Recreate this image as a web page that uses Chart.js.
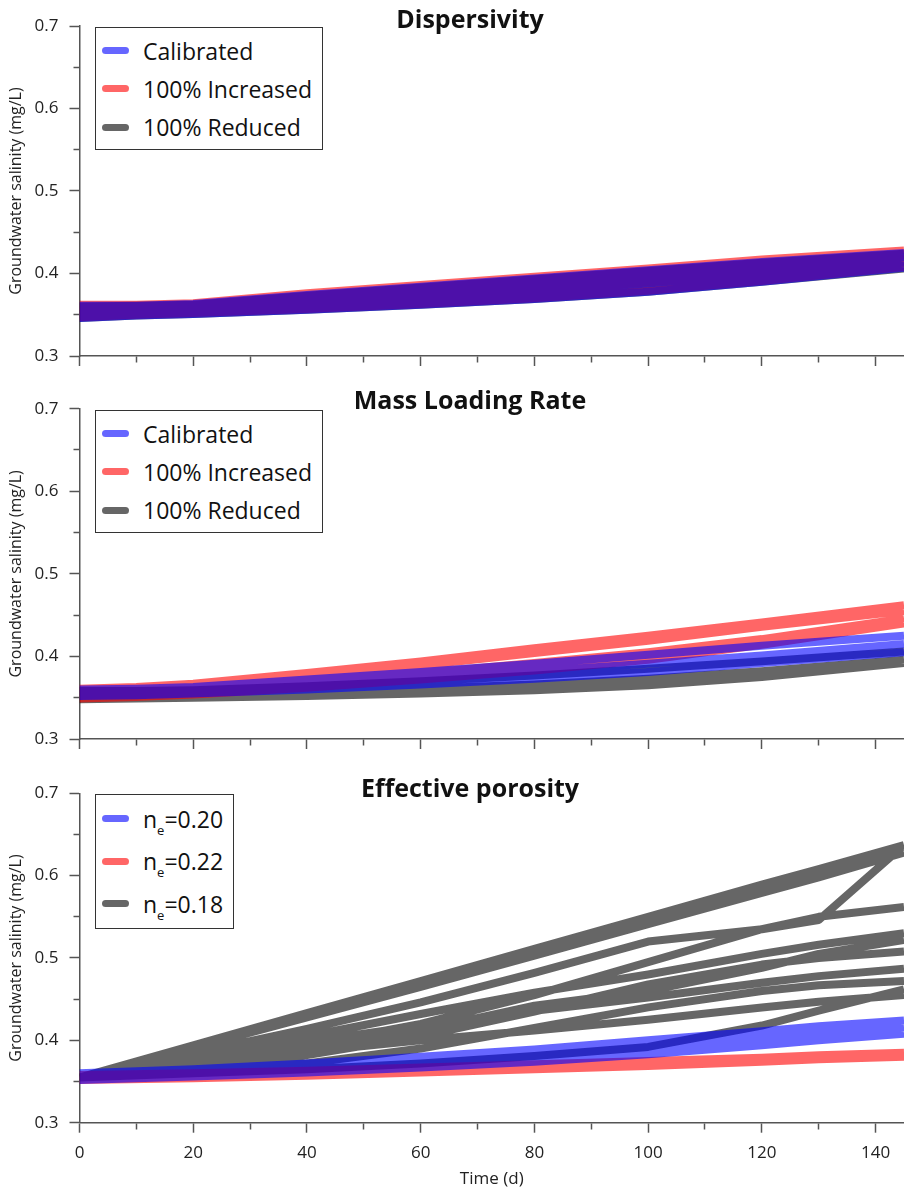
<!DOCTYPE html>
<html lang="en">
<head>
  <meta charset="UTF-8">
  <title>Groundwater salinity sensitivity</title>
  <script src="https://cdn.jsdelivr.net/npm/chart.js"></script>
  <style>
    body { margin: 0; background: #fff; font-family: 'Open Sans', sans-serif; }
    #wrap { position: relative; width: 904px; height: 1190px; overflow: hidden; }
    canvas { position: absolute; left: 0; }
    .ptitle { position: absolute; left: 0; width: 940px; text-align: center; font-weight: bold; font-size: 25px; line-height: 25px; color: #111; }
    .legend { position: absolute; border: 1px solid #333; background: #fff; box-sizing: border-box; }
    .legend .row { position: relative; display: flex; align-items: center; font-size: 23px; color: #111; white-space: nowrap; }
    .legend .swatch { position: absolute; left: 6px; width: 27px; height: 7px; border-radius: 3.5px; }
    .legend .txt { position: absolute; left: 47px; }
    .legend sub { font-size: 13px; vertical-align: -7px; line-height: 0; }
  </style>
</head>
<body>
<div id="wrap">
  <canvas id="c1" width="904" height="386" style="top:0px"></canvas>
  <canvas id="c2" width="904" height="383" style="top:386px"></canvas>
  <canvas id="c3" width="904" height="421" style="top:769px"></canvas>

  <div class="ptitle" style="top:6px">Dispersivity</div>
  <div class="ptitle" style="top:387px">Mass Loading Rate</div>
  <div class="ptitle" style="top:775px">Effective porosity</div>

  <div class="legend" id="lg1" style="left:95px; top:27px; width:228px; height:123px"></div>
  <div class="legend" id="lg2" style="left:95px; top:410px; width:228px; height:123px"></div>
  <div class="legend" id="lg3" style="left:95px; top:794px; width:139px; height:135px"></div>
</div>

<script>
  // time axes (days)
  const daysA = [0, 10, 20, 40, 60, 80, 100, 120, 145];
  const daysB = [0, 20, 40, 60, 80, 100, 120, 130, 145];

  // Dispersivity panel, one row per observation line
  const dispCalibrated = [
    [0.361, 0.361, 0.363, 0.374, 0.384, 0.394, 0.404, 0.414, 0.425],
    [0.357, 0.357, 0.359, 0.368, 0.377, 0.386, 0.396, 0.407, 0.420],
    [0.352, 0.353, 0.355, 0.362, 0.370, 0.378, 0.388, 0.399, 0.413],
    [0.346, 0.349, 0.351, 0.356, 0.362, 0.369, 0.378, 0.390, 0.407]
  ];
  const dispIncreased = [
    [0.362, 0.362, 0.364, 0.376, 0.386, 0.396, 0.406, 0.417, 0.428],
    [0.357, 0.358, 0.360, 0.369, 0.378, 0.388, 0.398, 0.409, 0.422],
    [0.352, 0.354, 0.356, 0.363, 0.371, 0.379, 0.389, 0.400, 0.414],
    [0.347, 0.350, 0.352, 0.357, 0.363, 0.370, 0.379, 0.391, 0.408]
  ];
  const dispReduced = [
    [0.360, 0.361, 0.362, 0.373, 0.383, 0.393, 0.403, 0.413, 0.424],
    [0.356, 0.357, 0.358, 0.367, 0.376, 0.385, 0.395, 0.406, 0.419],
    [0.351, 0.353, 0.355, 0.361, 0.369, 0.377, 0.387, 0.398, 0.412],
    [0.346, 0.349, 0.351, 0.356, 0.362, 0.369, 0.378, 0.390, 0.406]
  ];

  // Mass loading rate panel
  const massCalibrated = [
    [0.360, 0.361, 0.363, 0.372, 0.381, 0.391, 0.402, 0.413, 0.425],
    [0.356, 0.357, 0.359, 0.366, 0.374, 0.382, 0.391, 0.401, 0.415],
    [0.352, 0.353, 0.355, 0.360, 0.366, 0.373, 0.381, 0.392, 0.405]
  ];
  const massIncreased = [
    [0.361, 0.363, 0.367, 0.380, 0.394, 0.410, 0.425, 0.441, 0.462],
    [0.358, 0.360, 0.364, 0.376, 0.389, 0.404, 0.419, 0.436, 0.455],
    [0.354, 0.356, 0.359, 0.369, 0.380, 0.392, 0.405, 0.421, 0.446],
    [0.349, 0.351, 0.354, 0.362, 0.372, 0.383, 0.396, 0.414, 0.440]
  ];
  const massReduced = [
    [0.358, 0.358, 0.359, 0.364, 0.370, 0.377, 0.385, 0.394, 0.406],
    [0.353, 0.353, 0.354, 0.357, 0.361, 0.366, 0.373, 0.382, 0.396],
    [0.348, 0.349, 0.350, 0.352, 0.355, 0.359, 0.365, 0.375, 0.392]
  ];

  // Effective porosity panel (daysB)
  const poro020 = [
    [0.360, 0.365, 0.372, 0.380, 0.389, 0.400, 0.411, 0.417, 0.424],
    [0.356, 0.361, 0.367, 0.374, 0.382, 0.391, 0.402, 0.408, 0.416],
    [0.352, 0.356, 0.361, 0.367, 0.374, 0.383, 0.394, 0.400, 0.408]
  ];
  const poro022 = [
    [0.358, 0.360, 0.363, 0.367, 0.371, 0.375, 0.379, 0.382, 0.385],
    [0.352, 0.354, 0.357, 0.361, 0.365, 0.369, 0.374, 0.377, 0.380]
  ];
  const poro018 = [
    [0.355, 0.394, 0.433, 0.472, 0.511, 0.550, 0.589, 0.608, 0.637],
    [0.355, 0.391, 0.428, 0.465, 0.503, 0.541, 0.579, 0.598, 0.628],
    [0.355, 0.384, 0.414, 0.446, 0.482, 0.520, 0.535, 0.546, 0.637],
    [0.355, 0.372, 0.394, 0.420, 0.455, 0.495, 0.535, 0.550, 0.562],
    [0.355, 0.380, 0.405, 0.432, 0.458, 0.480, 0.505, 0.516, 0.530],
    [0.355, 0.366, 0.382, 0.405, 0.435, 0.468, 0.492, 0.500, 0.508],
    [0.355, 0.374, 0.392, 0.412, 0.442, 0.460, 0.488, 0.505, 0.522],
    [0.355, 0.376, 0.398, 0.418, 0.436, 0.452, 0.470, 0.478, 0.487],
    [0.355, 0.362, 0.372, 0.390, 0.415, 0.440, 0.460, 0.467, 0.472],
    [0.355, 0.370, 0.386, 0.400, 0.412, 0.425, 0.440, 0.447, 0.455],
    [0.355, 0.360, 0.365, 0.372, 0.381, 0.392, 0.418, 0.436, 0.462]
  ];

  const BLUE = 'rgba(0,0,255,0.6)';
  const RED = 'rgba(255,0,0,0.6)';
  const GRAY = 'rgba(0,0,0,0.6)';

  Chart.defaults.font.family = "'Open Sans', sans-serif";
  Chart.defaults.animation = false;

  // all lines of one group go into one dataset, split by null gaps,
  // so the group is stroked once and only different groups blend
  function toPoints(days, lines) {
    const pts = [];
    lines.forEach((ys, k) => {
      if (k > 0) pts.push({ x: days[days.length - 1], y: null });
      ys.forEach((y, i) => pts.push({ x: days[i], y: y }));
    });
    return pts;
  }

  function makeChart(id, days, groups, opts) {
    const isMinorX = c => Math.round(c.tick.value) % 20 !== 0;
    const isMinorY = c => Math.round(c.tick.value * 100) % 10 !== 0;
    return new Chart(document.getElementById(id), {
      type: 'line',
      data: {
        datasets: groups.map(g => ({
          label: g.label,
          data: toPoints(days, g.lines),
          borderColor: g.color,
          backgroundColor: g.color,
          borderWidth: 8,
          pointRadius: 0,
          tension: 0,
          borderCapStyle: 'butt',
          borderJoinStyle: 'round',
          spanGaps: false
        }))
      },
      options: {
        responsive: false,
        layout: { padding: { top: opts.padTop, left: 0, right: 0, bottom: 0 } },
        plugins: { legend: { display: false }, tooltip: { enabled: false } },
        scales: {
          x: {
            type: 'linear',
            min: 0,
            max: 145,
            afterFit: s => { s.height = opts.xHeight; },
            ticks: {
              stepSize: 10,
              includeBounds: false,
              autoSkip: false,
              maxRotation: 0,
              padding: 10,
              color: '#222',
              font: { size: 17 },
              callback: v => (opts.xLabels && Math.round(v) % 20 === 0) ? String(v) : ''
            },
            grid: {
              drawOnChartArea: false,
              tickLength: 10,
              tickWidth: 1.5,
              tickColor: '#555',
              tickBorderDash: c => isMinorX(c) ? [6, 10] : []
            },
            border: { color: '#555', width: 1.5 },
            title: {
              display: opts.xLabels,
              text: 'Time (d)',
              color: '#222',
              font: { size: 17 },
              padding: { top: 0, bottom: 1 }
            }
          },
          y: {
            min: 0.3,
            max: 0.7,
            afterFit: s => { s.width = 79.5; },
            ticks: {
              stepSize: 0.05,
              autoSkip: false,
              padding: 11,
              color: '#222',
              font: { size: 17 },
              callback: v => Math.round(v * 100) % 10 === 0 ? v.toFixed(1) : ''
            },
            grid: {
              drawOnChartArea: false,
              tickLength: 10,
              tickWidth: 1.5,
              tickColor: '#555',
              tickBorderDash: c => isMinorY(c) ? [6, 4] : [],
              tickBorderDashOffset: c => isMinorY(c) ? 6 : 0
            },
            border: { color: '#555', width: 1.5 },
            title: {
              display: true,
              text: 'Groundwater salinity (mg/L)',
              color: '#222',
              font: { size: 16 },
              padding: { top: 7, bottom: 0 }
            }
          }
        }
      }
    });
  }

  function buildLegend(id, items, rowH, padTop) {
    const box = document.getElementById(id);
    box.style.paddingTop = padTop + 'px';
    items.forEach(it => {
      const row = document.createElement('div');
      row.className = 'row';
      row.style.height = rowH + 'px';
      row.innerHTML = '<span class="swatch" style="background:' + it.color + '"></span>' +
                      '<span class="txt">' + it.html + '</span>';
      box.appendChild(row);
    });
  }

  makeChart('c1', daysA, [
    { label: 'Calibrated', color: BLUE, lines: dispCalibrated },
    { label: '100% Increased', color: RED, lines: dispIncreased },
    { label: '100% Reduced', color: GRAY, lines: dispReduced }
  ], { padTop: 26, xHeight: 30, xLabels: false });

  makeChart('c2', daysA, [
    { label: 'Calibrated', color: BLUE, lines: massCalibrated },
    { label: '100% Increased', color: RED, lines: massIncreased },
    { label: '100% Reduced', color: GRAY, lines: massReduced }
  ], { padTop: 22.7, xHeight: 30, xLabels: false });

  makeChart('c3', daysB, [
    { label: 'ne=0.20', color: BLUE, lines: poro020 },
    { label: 'ne=0.22', color: RED, lines: poro022 },
    { label: 'ne=0.18', color: GRAY, lines: poro018 }
  ], { padTop: 24.3, xHeight: 67.3, xLabels: true });

  const stdItems = [
    { color: BLUE, html: 'Calibrated' },
    { color: RED, html: '100% Increased' },
    { color: GRAY, html: '100% Reduced' }
  ];
  buildLegend('lg1', stdItems, 38.3, 3.5);
  buildLegend('lg2', stdItems, 38.3, 3.5);
  buildLegend('lg3', [
    { color: BLUE, html: 'n<sub>e</sub>=0.20' },
    { color: RED, html: 'n<sub>e</sub>=0.22' },
    { color: GRAY, html: 'n<sub>e</sub>=0.18' }
  ], 42.5, 2.5);
</script>
</body>
</html>
